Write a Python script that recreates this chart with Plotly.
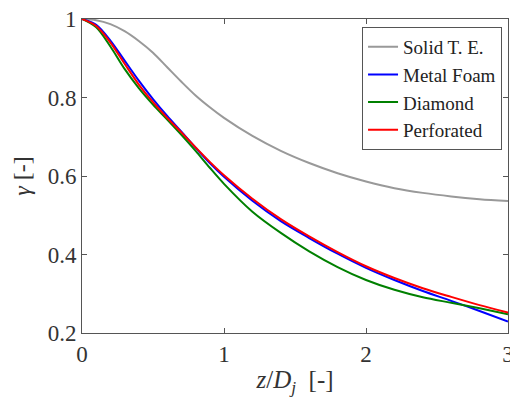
import plotly.graph_objects as go

z_dj = [0, 0.1, 0.2, 0.3, 0.4, 0.5, 0.6, 0.7, 0.8, 0.9, 1.0, 1.2, 1.4, 1.6, 1.8, 2.0, 2.2, 2.4, 2.6, 2.8, 3.0]

solid_te = [1.0, 0.997, 0.987, 0.969, 0.944, 0.914, 0.877, 0.840, 0.805, 0.775, 0.748,
            0.702, 0.664, 0.633, 0.607, 0.586, 0.569, 0.557, 0.548, 0.541, 0.536]
metal_foam = [1.0, 0.985, 0.945, 0.894, 0.843, 0.796, 0.753, 0.713, 0.672, 0.633, 0.598,
              0.537, 0.485, 0.442, 0.402, 0.366, 0.335, 0.307, 0.282, 0.256, 0.229]
diamond = [1.0, 0.979, 0.930, 0.873, 0.824, 0.782, 0.744, 0.705, 0.664, 0.621, 0.580,
           0.509, 0.455, 0.408, 0.368, 0.335, 0.310, 0.291, 0.277, 0.263, 0.248]
perforated = [1.0, 0.982, 0.940, 0.886, 0.833, 0.788, 0.748, 0.711, 0.673, 0.636, 0.602,
              0.542, 0.490, 0.446, 0.406, 0.370, 0.340, 0.314, 0.292, 0.271, 0.252]

series = [
    ("Solid T. E.", solid_te, "#999999"),
    ("Metal Foam", metal_foam, "#0000ff"),
    ("Diamond", diamond, "#008000"),
    ("Perforated", perforated, "#ff0000"),
]

x_ticks = [0, 1, 2, 3]
y_ticks = [0.2, 0.4, 0.6, 0.8, 1.0]
y_tick_labels = ["0.2", "0.4", "0.6", "0.8", "1"]

fig = go.Figure()
for name, vals, col in series:
    fig.add_trace(go.Scatter(x=z_dj, y=vals, mode="lines", name=name,
                             line=dict(color=col, width=2, shape="spline", smoothing=0.9)))

FONT = "Liberation Serif"
axis_common = dict(showline=True, linecolor="#555555", linewidth=1, mirror="ticks",
                   ticks="inside", ticklen=5, tickcolor="#555555", showgrid=False,
                   zeroline=False, automargin=False, ticklabeloverflow="allow",
                   tickfont=dict(family=FONT, size=23, color="#333333"))

fig.update_layout(
    width=510, height=401,
    margin=dict(l=82, r=2, t=19, b=68),
    paper_bgcolor="white", plot_bgcolor="white",
    font=dict(family=FONT, size=20, color="#333333"),
    xaxis=dict(range=[0, 3], tickvals=x_ticks, ticktext=[str(v) for v in x_ticks],
               title=dict(text="<i>z</i>/<i>D<sub>j</sub></i>\u00a0\u00a0[-]",
                          font=dict(family=FONT, size=25, color="#333333"), standoff=4),
               **axis_common),
    yaxis=dict(range=[0.2, 1], tickvals=y_ticks, ticktext=y_tick_labels,
               title=dict(text="<i>γ</i> [-]",
                          font=dict(family=FONT, size=24, color="#333333"), standoff=10),
               **axis_common),
    legend=dict(x=0.986, y=0.975, xanchor="right", yanchor="top",
                bgcolor="white", bordercolor="#555555", borderwidth=1,
                font=dict(family=FONT, size=19, color="#222222"),
                tracegroupgap=0),
    showlegend=True,
)

fig.write_html(
    "out.html",
    config={"displayModeBar": False},
    post_script="document.documentElement.style.margin='0';document.body.style.margin='0';"
                "document.body.style.overflow='hidden';",
)
